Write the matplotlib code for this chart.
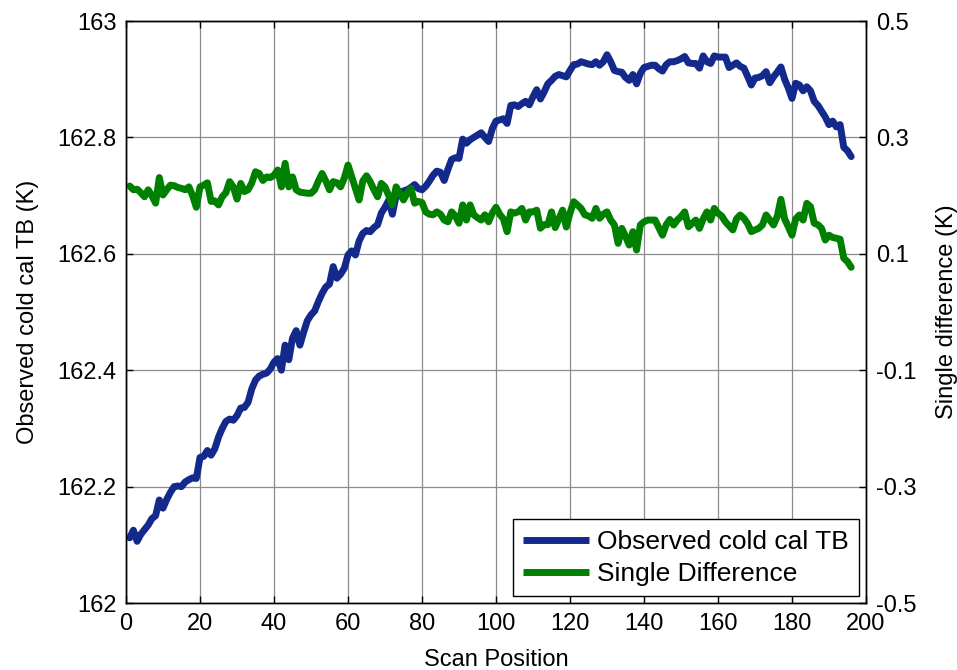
import matplotlib
matplotlib.use("Agg")
import matplotlib.pyplot as plt
import numpy as np

plt.rcParams['font.family'] = ['Liberation Sans', 'DejaVu Sans']

scan_position = list(range(1, 197))

cold_cal_tb = [
    162.112, 162.125, 162.106, 162.118, 162.126, 162.134, 162.145, 162.150, 162.177, 162.163,
    162.178, 162.190, 162.200, 162.201, 162.200, 162.208, 162.212, 162.215, 162.214, 162.250,
    162.252, 162.262, 162.254, 162.265, 162.285, 162.300, 162.312, 162.316, 162.314, 162.322,
    162.335, 162.336, 162.345, 162.368, 162.383, 162.390, 162.393, 162.395, 162.402, 162.414,
    162.420, 162.400, 162.443, 162.418, 162.455, 162.468, 162.443, 162.465, 162.485, 162.495,
    162.502, 162.518, 162.532, 162.543, 162.548, 162.578, 162.558, 162.565, 162.575, 162.598,
    162.605, 162.598, 162.622, 162.635, 162.640, 162.638, 162.645, 162.650, 162.670, 162.680,
    162.692, 162.668, 162.700, 162.705, 162.708, 162.710, 162.714, 162.719, 162.712, 162.710,
    162.716, 162.725, 162.735, 162.742, 162.740, 162.726, 162.745, 162.762, 162.765, 162.764,
    162.797, 162.790, 162.796, 162.800, 162.804, 162.808, 162.800, 162.793, 162.815, 162.828,
    162.830, 162.832, 162.824, 162.855, 162.856, 162.853, 162.858, 162.862, 162.856, 162.870,
    162.882, 162.866, 162.878, 162.892, 162.898, 162.905, 162.908, 162.906, 162.904, 162.915,
    162.925, 162.926, 162.930, 162.928, 162.926, 162.925, 162.930, 162.924, 162.930, 162.942,
    162.930, 162.915, 162.913, 162.912, 162.903, 162.898, 162.908, 162.892, 162.910, 162.920,
    162.922, 162.924, 162.924, 162.918, 162.914, 162.925, 162.930, 162.930, 162.932, 162.935,
    162.939, 162.928, 162.927, 162.927, 162.919, 162.940, 162.930, 162.927, 162.940, 162.938,
    162.938, 162.938, 162.920, 162.924, 162.928, 162.922, 162.919, 162.905, 162.890, 162.902,
    162.903, 162.906, 162.913, 162.894, 162.904, 162.912, 162.921, 162.900, 162.885, 162.867,
    162.893, 162.890, 162.880, 162.887, 162.880, 162.862, 162.855, 162.845, 162.835, 162.822,
    162.828, 162.818, 162.822, 162.783, 162.777, 162.767,
]

single_difference = [
    0.2165, 0.210, 0.211, 0.205, 0.198, 0.210, 0.200, 0.187, 0.231, 0.201,
    0.210, 0.218, 0.217, 0.214, 0.2125, 0.210, 0.215, 0.200, 0.180, 0.215,
    0.218, 0.222, 0.190, 0.191, 0.184, 0.198, 0.205, 0.224, 0.215, 0.194,
    0.221, 0.207, 0.210, 0.222, 0.241, 0.238, 0.226, 0.232, 0.231, 0.235,
    0.244, 0.215, 0.2555, 0.215, 0.232, 0.210, 0.206, 0.205, 0.204, 0.204,
    0.210, 0.225, 0.238, 0.225, 0.210, 0.224, 0.222, 0.215, 0.230, 0.2525,
    0.2325, 0.212, 0.1925, 0.225, 0.234, 0.224, 0.210, 0.198, 0.221, 0.215,
    0.200, 0.184, 0.215, 0.204, 0.1925, 0.205, 0.2125, 0.187, 0.190, 0.188,
    0.172, 0.168, 0.167, 0.172, 0.168, 0.158, 0.155, 0.172, 0.165, 0.1525,
    0.184, 0.158, 0.184, 0.167, 0.162, 0.158, 0.167, 0.155, 0.170, 0.180,
    0.168, 0.160, 0.138, 0.172, 0.170, 0.172, 0.178, 0.158, 0.172, 0.172,
    0.175, 0.144, 0.150, 0.150, 0.172, 0.145, 0.160, 0.175, 0.146, 0.170,
    0.1895, 0.184, 0.178, 0.167, 0.165, 0.161, 0.178, 0.161, 0.168, 0.172,
    0.158, 0.1495, 0.118, 0.1437, 0.130, 0.115, 0.138, 0.1065, 0.1495, 0.155,
    0.158, 0.158, 0.158, 0.145, 0.132, 0.150, 0.159, 0.1495, 0.158, 0.164,
    0.172, 0.1465, 0.152, 0.158, 0.1437, 0.160, 0.172, 0.158, 0.178, 0.1696,
    0.165, 0.155, 0.148, 0.141, 0.160, 0.1667, 0.161, 0.152, 0.138, 0.141,
    0.1437, 0.1495, 0.1667, 0.158, 0.1495, 0.164, 0.1937, 0.160, 0.1465, 0.132,
    0.160, 0.1667, 0.158, 0.1867, 0.181, 0.1525, 0.150, 0.1437, 0.1237, 0.132,
    0.128, 0.1267, 0.125, 0.0923, 0.0865, 0.0768,
]

x_ticks = [0, 20, 40, 60, 80, 100, 120, 140, 160, 180, 200]
left_ticks = [162.0, 162.2, 162.4, 162.6, 162.8, 163.0]
left_tick_labels = ['162', '162.2', '162.4', '162.6', '162.8', '163']
right_ticks = [-0.5, -0.3, -0.1, 0.1, 0.3, 0.5]
right_tick_labels = ['-0.5', '-0.3', '-0.1', '0.1', '0.3', '0.5']

blue = '#14298c'
green = '#008000'
fs = 17

fig = plt.figure(figsize=(9.57, 6.70), dpi=100)
ax = fig.add_axes([126/957, 1 - 603/670, (866-126)/957, (603-21)/670])
ax2 = ax.twinx()

l1, = ax.plot(scan_position, cold_cal_tb, color=blue, lw=5, solid_joinstyle='round',
              solid_capstyle='round', label='Observed cold cal TB')
l2, = ax2.plot(scan_position, single_difference, color=green, lw=5, solid_joinstyle='round',
               solid_capstyle='round', label='Single Difference')

ax.set_xlim(0, 200)
ax.set_ylim(162, 163)
ax2.set_ylim(-0.5, 0.5)

ax.set_xticks(x_ticks)
ax.set_xticklabels([str(t) for t in x_ticks], fontsize=fs)
ax.set_yticks(left_ticks)
ax.set_yticklabels(left_tick_labels, fontsize=fs)
ax2.set_yticks(right_ticks)
ax2.set_yticklabels(right_tick_labels, fontsize=fs)

ax.grid(True, color='#8c8c8c', lw=0.9)
ax.set_axisbelow(True)

ax.tick_params(axis='both', direction='in', length=5, width=1, top=True, right=False, pad=7)
ax2.tick_params(axis='y', direction='in', length=5, width=1, pad=7)

for sp in list(ax.spines.values()) + list(ax2.spines.values()):
    sp.set_linewidth(1.0)
    sp.set_color('black')

ax.set_xlabel('Scan Position', fontsize=fs, labelpad=10)
ax.set_ylabel('Observed cold cal TB (K)', fontsize=fs, labelpad=13)
ax2.set_ylabel('Single difference (K)', fontsize=fs, labelpad=14)

leg = ax2.legend(handles=[l1, l2], loc='lower right', fontsize=19, frameon=True,
                 fancybox=False, framealpha=1, edgecolor='black', handlelength=2.5,
                 borderaxespad=0.25, handletextpad=0.3, labelspacing=0.3, borderpad=0.4)
leg.get_frame().set_linewidth(1.0)
for h in leg.get_lines():
    h.set_solid_capstyle('butt')

fig.savefig('out.png', dpi=100)
